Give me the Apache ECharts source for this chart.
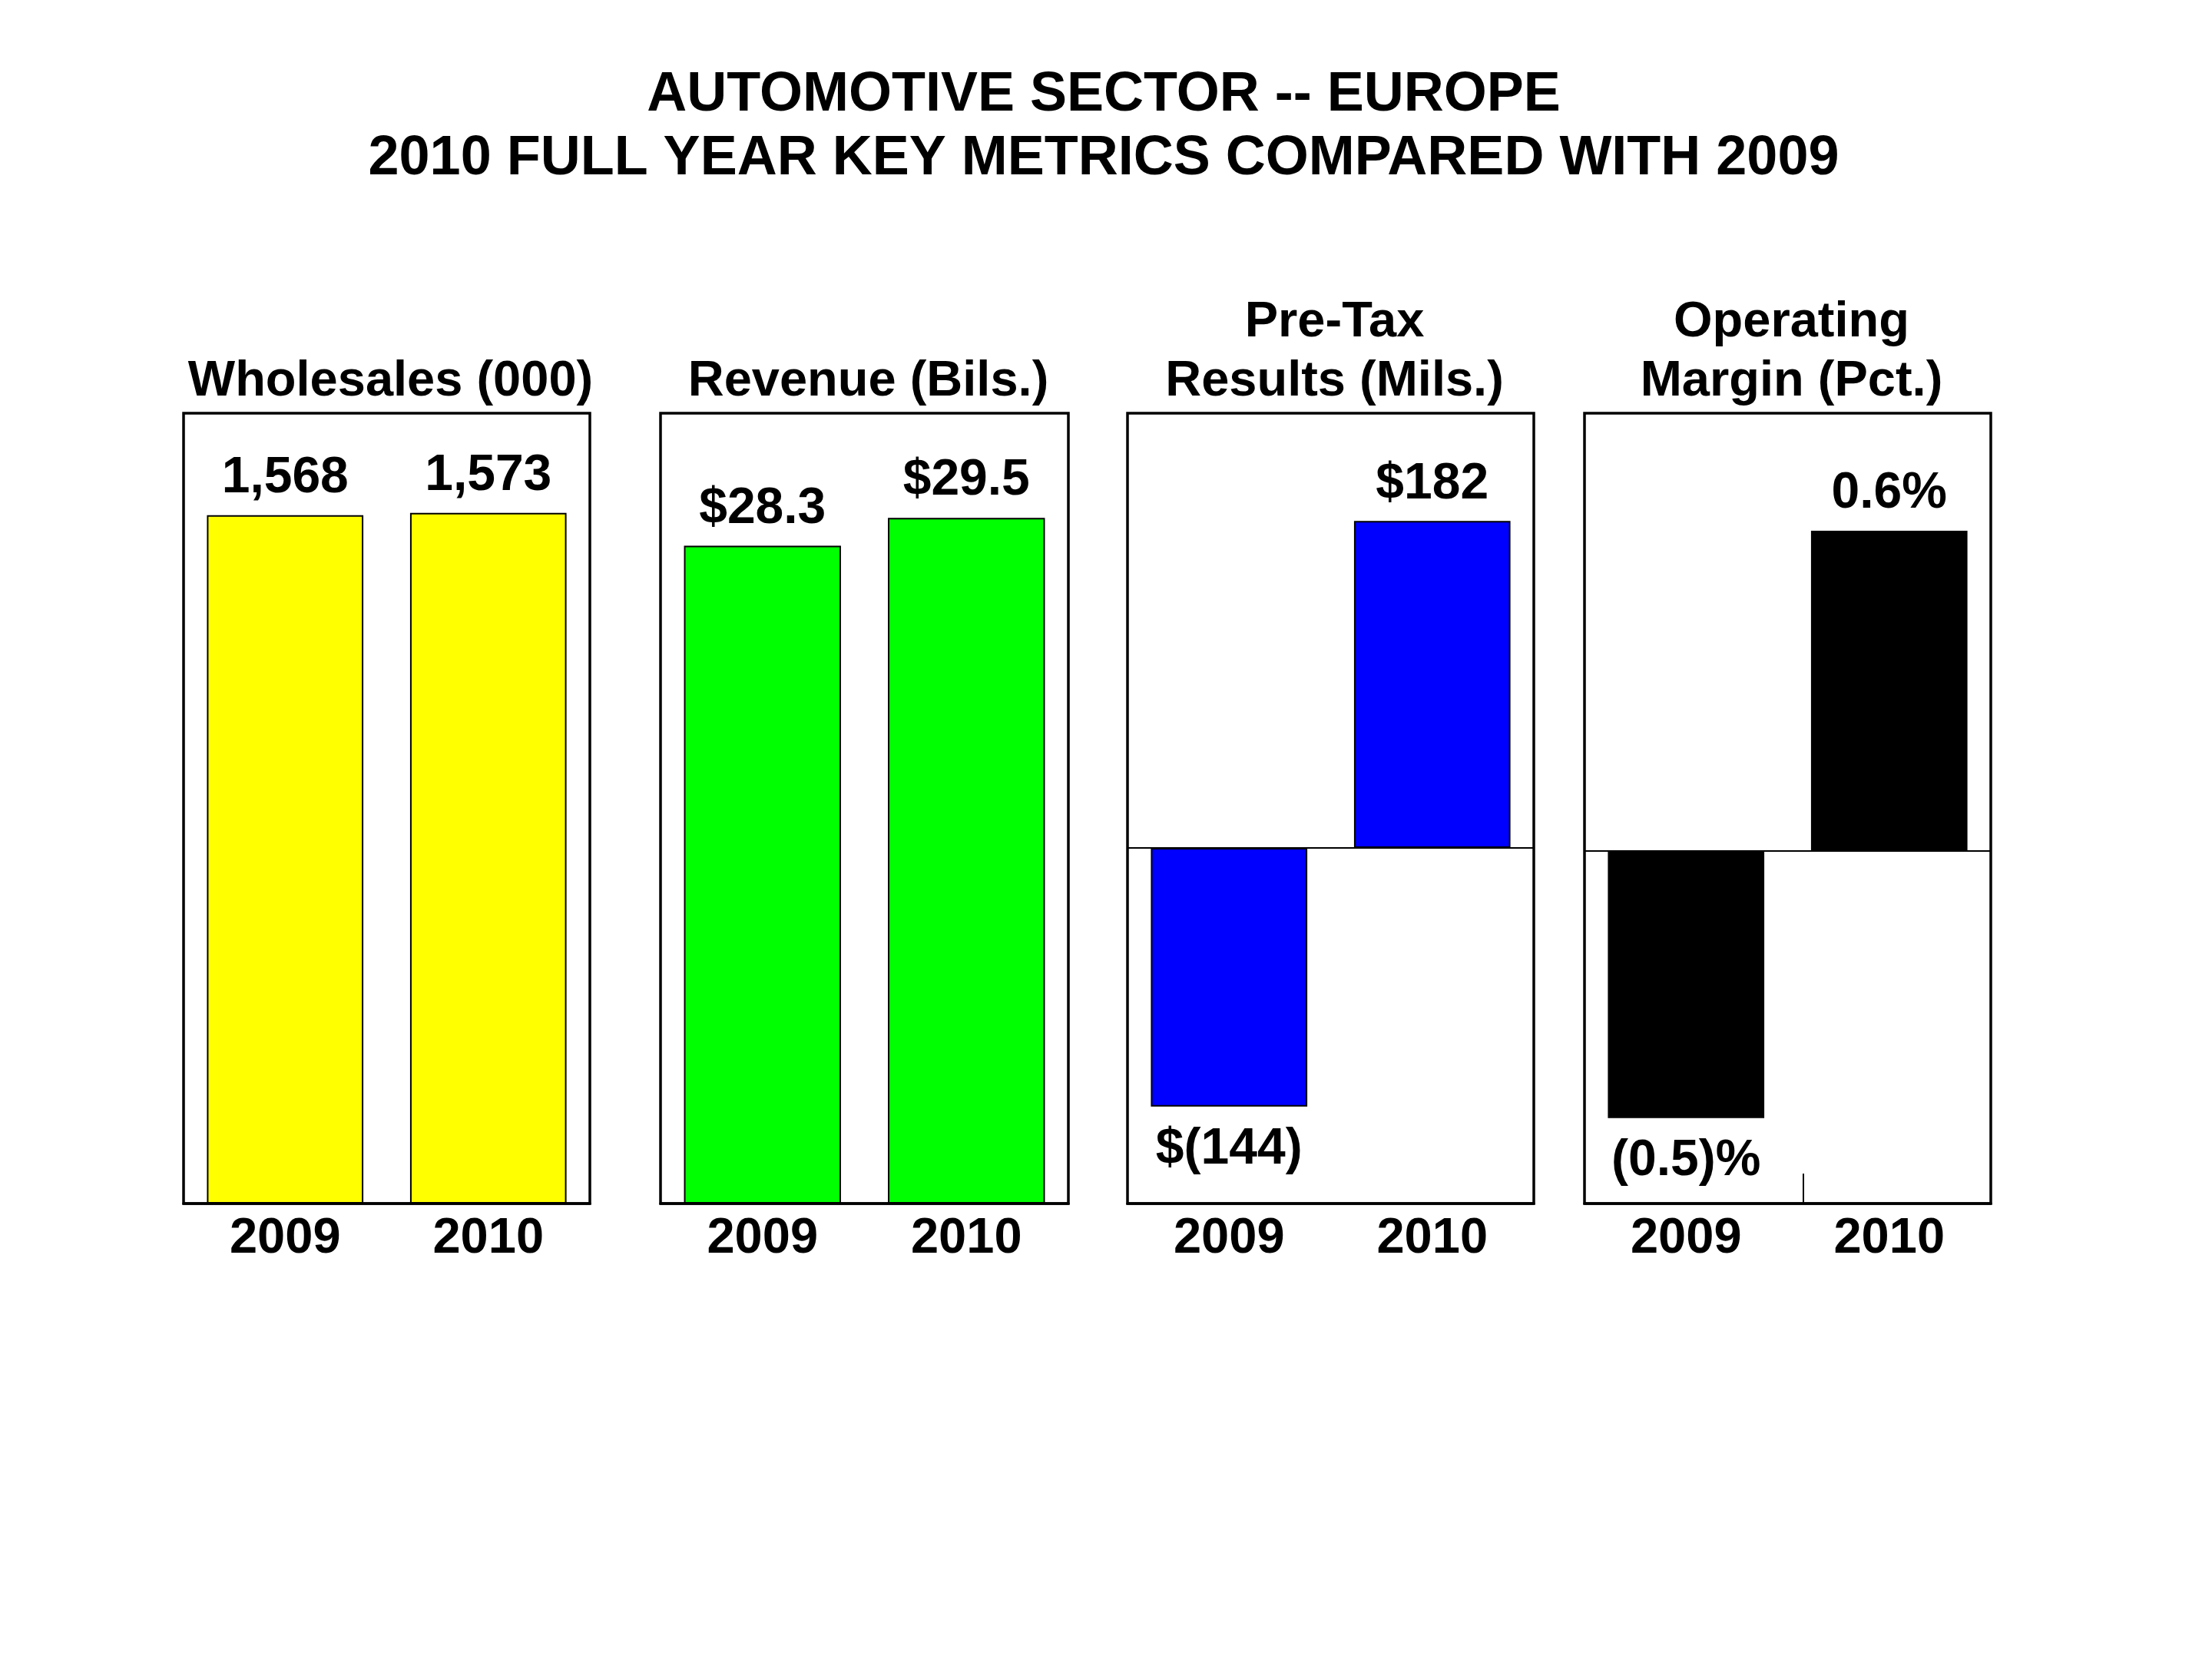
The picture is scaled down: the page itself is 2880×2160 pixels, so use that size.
<!DOCTYPE html>
<html>
<head>
<meta charset="utf-8">
<script src="https://cdn.jsdelivr.net/npm/echarts@6/dist/echarts.min.js"></script>
<style>
  html, body { margin: 0; padding: 0; background: #fff; }
  #main { width: 2880px; height: 2160px; }
</style>
</head>
<body>
<div id="main"></div>
<script>
// data
var years = ['2009', '2010'];
var wholesales = [1568, 1573];
var revenue = [28.3, 29.5];
var preTax = [-144, 182];
var opMargin = [-0.5, 0.6];
var panelTitles = ['Wholesales (000)', 'Revenue (Bils.)', 'Pre-Tax\nResults (Mils.)', 'Operating\nMargin (Pct.)'];

var FONT = "'Liberation Sans', Arial, sans-serif";

function fmtWholesales(v) { return v.toLocaleString('en-US'); }
function fmtRevenue(v) { return '$' + v.toFixed(1); }
function fmtPreTax(v) { return v < 0 ? '$(' + Math.abs(v) + ')' : '$' + v; }
function fmtMargin(v) { return v < 0 ? '(' + Math.abs(v).toFixed(1) + ')%' : v.toFixed(1) + '%'; }

// panel boxes (px)
var panels = [
  { left: 239, width: 529, min: 0, max: 1800, values: wholesales, fmt: fmtWholesales, color: '#ffff00' },
  { left: 860, width: 531, min: 0, max: 34, values: revenue, fmt: fmtRevenue, color: '#00ff00' },
  { left: 1468, width: 529, min: -198, max: 242, values: preTax, fmt: fmtPreTax, color: '#0000ff' },
  { left: 2063, width: 529, min: -0.66, max: 0.82, values: opMargin, fmt: fmtMargin, color: '#000000' }
];
var TOP = 538, HEIGHT = 1029;

var chart = echarts.init(document.getElementById('main'));

function buildOption() {
  var grid = [], xAxis = [], yAxis = [], series = [];
  var title = [{
    text: 'AUTOMOTIVE SECTOR -- EUROPE\n2010 FULL YEAR KEY METRICS COMPARED WITH 2009',
    left: 1432,
    top: 78,
    textAlign: 'center',
    textStyle: { fontFamily: FONT, fontWeight: 'bold', fontSize: 72, lineHeight: 83, color: '#000' }
  }];

  panels.forEach(function (p, i) {
    grid.push({
      left: p.left, top: TOP, width: p.width, height: HEIGHT,
      show: true, borderColor: '#000', borderWidth: 3.5, backgroundColor: '#fff'
    });
    xAxis.push({
      type: 'category',
      gridIndex: i,
      data: years,
      position: 'bottom',
      axisLine: { onZero: false, lineStyle: { color: '#000', width: 3.5 } },
      axisTick: { show: false },
      axisLabel: { color: '#000', fontFamily: FONT, fontWeight: 'bold', fontSize: 65, margin: 14 }
    });
    yAxis.push({
      type: 'value',
      gridIndex: i,
      min: p.min,
      max: p.max,
      show: false,
      splitLine: { show: false }
    });
    series.push({
      type: 'bar',
      xAxisIndex: i,
      yAxisIndex: i,
      barWidth: '77%',
      itemStyle: { color: p.color, borderColor: '#000', borderWidth: 2 },
      label: {
        show: true,
        color: '#000',
        fontFamily: FONT,
        fontWeight: 'bold',
        fontSize: 66,
        formatter: function (d) { return p.fmt(d.value); }
      },
      data: p.values.map(function (v) {
        return {
          value: v,
          label: v < 0 ? { position: 'bottom', distance: 23 } : { position: 'top', distance: 15 }
        };
      }),
      markLine: p.min < 0 ? {
        silent: true,
        symbol: 'none',
        label: { show: false },
        lineStyle: { color: '#000', width: 2, type: 'solid' },
        data: [{ yAxis: 0 }]
      } : undefined
    });
    title.push({
      text: panelTitles[i],
      left: p.left + p.width / 2,
      top: TOP - 7,
      textAlign: 'center',
      textVerticalAlign: 'bottom',
      textStyle: { fontFamily: FONT, fontWeight: 'bold', fontSize: 65, lineHeight: 77, color: '#000' }
    });
  });

  return {
    backgroundColor: '#fff',
    animation: false,
    title: title,
    grid: grid,
    xAxis: xAxis,
    yAxis: yAxis,
    series: series,
    graphic: [{
      // stray tick near the bottom of the last box
      type: 'line',
      shape: { x1: 2348, y1: 1528, x2: 2348, y2: 1566 },
      style: { stroke: '#000', lineWidth: 2 }
    }]
  };
}

chart.setOption(buildOption());
</script>
</body>
</html>
